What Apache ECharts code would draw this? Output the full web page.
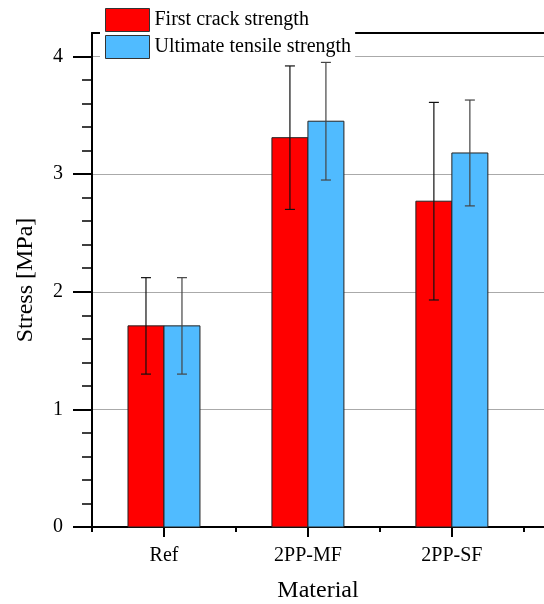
<!DOCTYPE html>
<html>
<head>
<meta charset="utf-8">
<script src="https://cdn.jsdelivr.net/npm/echarts@6/dist/echarts.min.js"></script>
<style>
  html, body { margin: 0; padding: 0; background: #fff; }
  #chart { width: 544px; height: 604px; }
</style>
</head>
<body>
<div id="chart"></div>
<script>
const materials = ['Ref', '2PP-MF', '2PP-SF'];
const firstCrack = [1.71, 3.31, 2.77];
const firstCrackErr = [0.41, 0.61, 0.84];
const ultimate = [1.71, 3.45, 3.18];
const ultimateErr = [0.41, 0.50, 0.45];
const yTicks = [0, 1, 2, 3, 4];
const xCenters = [1, 2, 3];
const xBounds = [0.5, 1.5, 2.5, 3.5];

const RED = '#ff0000';
const BLUE = '#50bbff';
const FONT = 'Liberation Serif';

const chart = echarts.init(document.getElementById('chart'), null, { renderer: 'canvas' });

// side: -1 draws the bar left of the category centre, 0 right of it
function barItem(side, fill) {
    return function (params, api) {
        const x = api.value(0);
        const base = api.coord([x, 0]);
        const top = api.coord([x, api.value(1)]);
        const w = api.size([1, 0])[0] * 0.25;
        return {
            type: 'rect',
            shape: { x: base[0] + side * w, y: top[1], width: w, height: base[1] - top[1] },
            style: { fill: fill, stroke: '#222', lineWidth: 1 }
        };
    };
}

function errItem(side, color) {
    return function (params, api) {
        const x = api.value(0);
        const hi = api.coord([x, api.value(1) + api.value(2)]);
        const lo = api.coord([x, api.value(1) - api.value(2)]);
        const w = api.size([1, 0])[0] * 0.25;
        const cx = hi[0] + side * w + w / 2;
        const cap = 5;
        const style = { stroke: color, lineWidth: 1.2 };
        return {
            type: 'group',
            children: [
                { type: 'line', shape: { x1: cx, y1: hi[1], x2: cx, y2: lo[1] }, style: style },
                { type: 'line', shape: { x1: cx - cap, y1: hi[1], x2: cx + cap, y2: hi[1] }, style: style },
                { type: 'line', shape: { x1: cx - cap, y1: lo[1], x2: cx + cap, y2: lo[1] }, style: style }
            ]
        };
    };
}

const redData = xCenters.map((x, i) => [x, firstCrack[i], firstCrackErr[i]]);
const blueData = xCenters.map((x, i) => [x, ultimate[i], ultimateErr[i]]);

const xMin = 0.5, xMax = 3.64;

chart.setOption({
    animation: false,
    textStyle: { fontFamily: FONT, color: '#000' },
    grid: { left: 92, right: 0, top: 33, bottom: 77, outerBoundsMode: 'none', containLabel: false },
    legend: {
        orient: 'vertical',
        left: 100, top: 7,
        padding: [1, 4, 1, 5],
        backgroundColor: '#fff',
        itemWidth: 44, itemHeight: 23, itemGap: 3,
        z: 10,
        textStyle: { fontFamily: FONT, fontSize: 20, color: '#000' },
        data: [
            { name: 'First crack strength', icon: 'rect', itemStyle: { color: RED, borderColor: '#333', borderWidth: 1 } },
            { name: 'Ultimate tensile strength', icon: 'rect', itemStyle: { color: BLUE, borderColor: '#333', borderWidth: 1 } }
        ]
    },
    xAxis: [
        {
            type: 'value', min: xMin, max: xMax, position: 'bottom',
            name: 'Material', nameLocation: 'middle', nameGap: 52,
            nameTextStyle: { fontFamily: FONT, fontSize: 24, color: '#000' },
            axisLine: { onZero: false, lineStyle: { color: '#000', width: 2 } },
            axisTick: { customValues: xCenters, length: 10, lineStyle: { color: '#000', width: 2 } },
            axisLabel: {
                customValues: xCenters, margin: 19,
                fontFamily: FONT, fontSize: 20, color: '#000',
                formatter: v => materials[Math.round(v) - 1]
            },
            splitLine: { show: false }
        },
        {
            type: 'value', min: xMin, max: xMax, position: 'bottom',
            axisLine: { show: false, onZero: false },
            axisTick: { customValues: xBounds, length: 5, lineStyle: { color: '#000', width: 2 } },
            axisLabel: { show: false },
            splitLine: { show: false }
        },
        {
            type: 'value', min: xMin, max: xMax, position: 'top',
            axisLine: { onZero: false, lineStyle: { color: '#000', width: 2 } },
            axisTick: { show: false },
            axisLabel: { show: false },
            splitLine: { show: false }
        }
    ],
    yAxis: {
        type: 'value', min: 0, max: 4.2, interval: 1,
        name: 'Stress [MPa]', nameLocation: 'middle', nameGap: 54,
        nameTextStyle: { fontFamily: FONT, fontSize: 24, color: '#000' },
        axisLine: { show: true, onZero: false, lineStyle: { color: '#000', width: 2 } },
        axisTick: { customValues: yTicks, length: 19, lineStyle: { color: '#000', width: 2 } },
        minorTick: { show: true, splitNumber: 5, length: 10, lineStyle: { color: '#000', width: 1.5 } },
        axisLabel: { customValues: yTicks, margin: 29, fontFamily: FONT, fontSize: 20, color: '#000' },
        splitLine: { show: true, lineStyle: { color: '#aaa', width: 1 } }
    },
    series: [
        { name: 'First crack strength', type: 'custom', xAxisIndex: 0, data: redData,
          itemStyle: { color: RED }, renderItem: barItem(-1, RED), z: 2 },
        { name: 'Ultimate tensile strength', type: 'custom', xAxisIndex: 0, data: blueData,
          itemStyle: { color: BLUE }, renderItem: barItem(0, BLUE), z: 2 },
        { name: 'First crack strength', type: 'custom', xAxisIndex: 0, data: redData,
          renderItem: errItem(-1, '#111'), z: 3 },
        { name: 'Ultimate tensile strength', type: 'custom', xAxisIndex: 0, data: blueData,
          renderItem: errItem(0, '#444'), z: 3 }
    ]
});
</script>
</body>
</html>
